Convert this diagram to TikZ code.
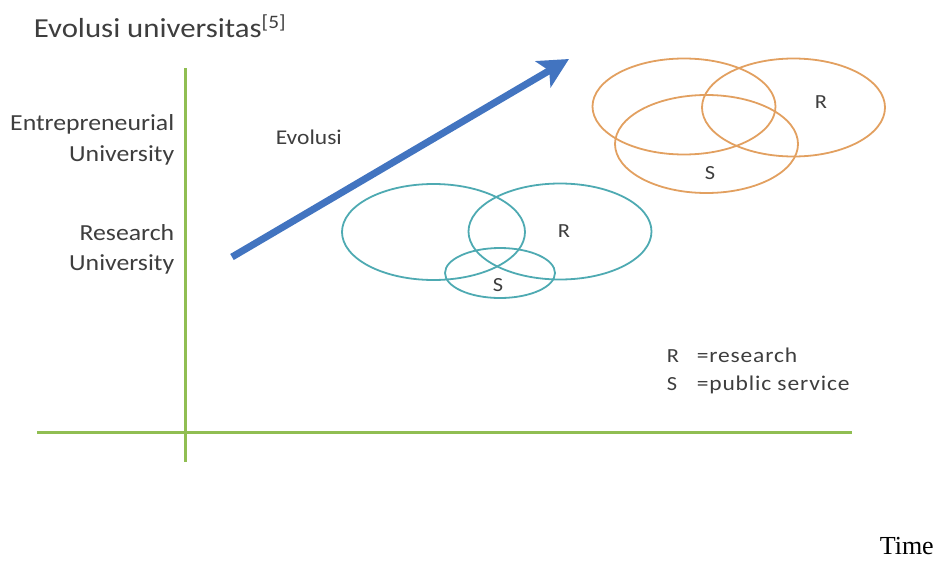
\documentclass[tikz,border=0pt]{standalone}
\usepackage{fontspec}
\setmainfont[FakeStretch=1.12]{Carlito}
\newfontfamily\timefont{Liberation Serif}
\usetikzlibrary{positioning, arrows.meta}

\definecolor{axisgreen}{RGB}{144,190,82}
\definecolor{arrowblue}{RGB}{66,116,192}
\definecolor{vennteal}{RGB}{78,170,178}
\definecolor{vennorange}{RGB}{226,160,96}
\definecolor{labelgray}{RGB}{62,62,62}

\begin{document}
\begin{tikzpicture}[x=1pt, y=-1pt, >=latex, line width=1.6pt,
    axis/.style={axisgreen, line width=3pt},
    vennteal/.style={draw=vennteal, line width=1.8pt},
    vennorange/.style={draw=vennorange, line width=1.8pt},
    lbl/.style={text=labelgray, inner sep=0pt, font=\fontsize{23}{31}\selectfont},
    setlbl/.style={text=labelgray, inner sep=0pt, font=\fontsize{20}{22}\selectfont},
    leglbl/.style={text=labelgray, inner sep=0pt, anchor=base west,
        font=\fontsize{21}{24}\selectfont\addfontfeature{LetterSpace=4}}]

    \useasboundingbox (0,0) rectangle (947,562);

    % --- 参数定义 ---
    \def\rx{91.5} % 大椭圆半轴 x
    \def\ry{48}   % 大椭圆半轴 y

    % 坐标
    \coordinate (YTop) at (185, 68);
    \coordinate (YBot) at (185, 462);
    \coordinate (XLeft) at (37, 432);
    \coordinate (XRight) at (852, 432);
    \coordinate (EvoStart) at (232, 257);
    \coordinate (EvoEnd) at (569, 59);

    % --- 标题 ---
    \node[lbl, anchor=base west, font=\fontsize{27.5}{30}\selectfont] (title) at (33, 37)
        {Evolusi universitas\raisebox{9pt}{\fontsize{19}{20}\selectfont[5]}};

    % --- 坐标轴 ---
    \draw[axis] (YTop) -- (YBot);
    \draw[axis] (XLeft) -- (XRight);

    % 纵轴标签
    \node[lbl, anchor=base east] (entre) at (175, 130) {Entrepreneurial};
    \node[lbl, anchor=base east] (entreU) at (175, 161) {University};
    \node[lbl, anchor=base east] (research) at (175, 240) {Research};
    \node[lbl, anchor=base east] (researchU) at (175, 270) {University};

    % --- 演化箭头 ---
    \draw[arrowblue, line width=7pt, -{Stealth[length=30pt, width=30pt, inset=7pt]}]
        (EvoStart) -- (EvoEnd);
    \node[lbl, anchor=base west, font=\fontsize{21}{24}\selectfont] (evolusi) at (275, 144) {Evolusi};

    % --- 研究型大学 (青色) ---
    \draw[vennteal] (433.5, 232) ellipse [x radius=\rx, y radius=\ry];
    \draw[vennteal] (560, 231.5) ellipse [x radius=\rx, y radius=\ry];
    \draw[vennteal] (500, 273) ellipse [x radius=55, y radius=25];
    \node[setlbl] (tealR) at (564, 231) {R};
    \node[setlbl] (tealS) at (498, 285) {S};

    % --- 创业型大学 (橙色) ---
    \draw[vennorange] (684, 106.5) ellipse [x radius=\rx, y radius=\ry];
    \draw[vennorange] (793.5, 107.5) ellipse [x radius=\rx, y radius=\ry+1];
    \draw[vennorange] (706.5, 144) ellipse [x radius=\rx, y radius=\ry+1];
    \node[setlbl] (orangeR) at (821, 102) {R};
    \node[setlbl] (orangeS) at (710, 173) {S};

    % --- 图例 ---
    \node[setlbl, anchor=base west] (legR) at (666, 362) {R};
    \node[leglbl] (legRtxt) at (696, 362) {=research};
    \node[setlbl, anchor=base west] (legS) at (666, 390) {S};
    \node[leglbl] (legStxt) at (696, 390) {=public service};

    % 时间轴标签
    \node[anchor=base west, inner sep=0pt, font=\timefont\fontsize{26}{30}\selectfont] (time) at (879, 554) {Time};

\end{tikzpicture}
\end{document}
